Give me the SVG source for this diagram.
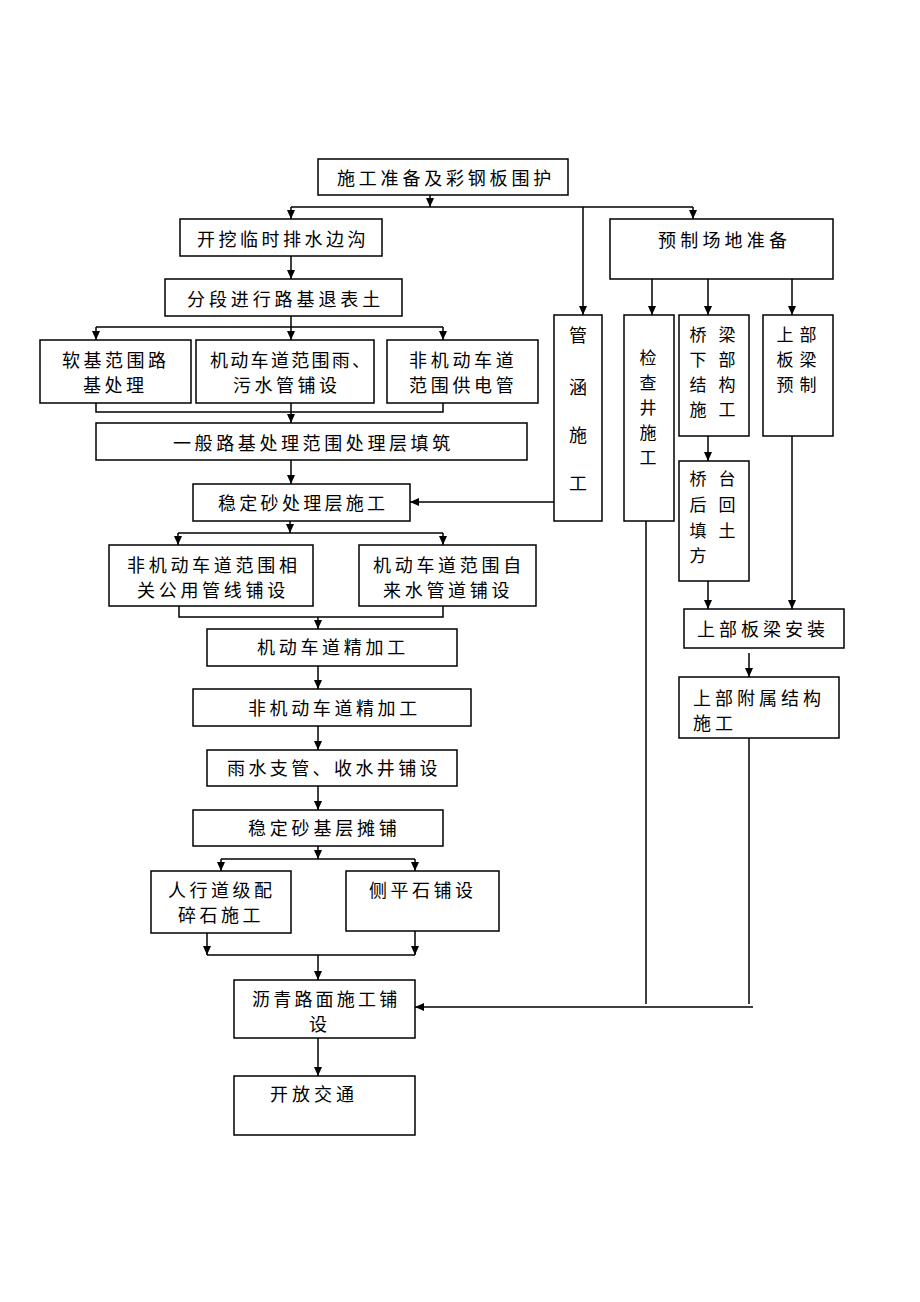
<svg xmlns="http://www.w3.org/2000/svg" width="920" height="1302" viewBox="0 0 920 1302">
<style>
.box{fill:#fff;stroke:#000;stroke-width:1.5}
.t{font-family:"Noto Sans CJK SC","Noto Sans CJK JP",sans-serif;font-size:18px;fill:#000;letter-spacing:3.5px}
.s{font-size:17px}
.v{letter-spacing:12px}
.c line,.c polyline{stroke:#000;stroke-width:1.5;fill:none}
.a{marker-end:url(#ah)}
</style>
<defs>
<marker id="ah" viewBox="0 0 9 8" markerWidth="9" markerHeight="8" refX="9" refY="4" orient="auto" markerUnits="userSpaceOnUse">
<path d="M0,0 L9,4 L0,8 z" fill="#000"/>
</marker>
</defs>
<rect width="920" height="1302" fill="#fff"/>

<g id="n1"><rect class="box" x="318" y="159" width="250" height="36"/><text class="t" x="337" y="185" style="letter-spacing:3.8px">施工准备及彩钢板围护</text></g>
<g id="n2"><rect class="box" x="180" y="219" width="202" height="37"/><text class="t" x="197" y="246">开挖临时排水边沟</text></g>
<g id="n3"><rect class="box" x="165" y="279" width="237" height="37"/><text class="t" x="187" y="306" style="letter-spacing:3.9px">分段进行路基退表土</text></g>
<g id="n4"><rect class="box" x="40" y="340" width="151" height="63"/><text class="t"><tspan x="62" y="367">软基范围路</tspan><tspan x="83" y="392">基处理</tspan></text></g>
<g id="n5"><rect class="box" x="196" y="340" width="178" height="63"/><text class="t"><tspan x="210" y="367" style="letter-spacing:2.3px">机动车道范围雨、</tspan><tspan x="233" y="392">污水管铺设</tspan></text></g>
<g id="n6"><rect class="box" x="387" y="340" width="151" height="63"/><text class="t" style="letter-spacing:3.7px"><tspan x="409" y="367">非机动车道</tspan><tspan x="409" y="392">范围供电管</tspan></text></g>
<g id="n7"><rect class="box" x="96" y="423" width="431" height="37"/><text class="t" x="173" y="450" style="letter-spacing:3.6px">一般路基处理范围处理层填筑</text></g>
<g id="n8"><rect class="box" x="193" y="484" width="217" height="37"/><text class="t" x="218" y="510" style="letter-spacing:3.3px">稳定砂处理层施工</text></g>
<g id="n9"><rect class="box" x="554" y="315" width="48" height="206"/><text class="t"><tspan x="569" y="342">管</tspan><tspan x="569" y="394">涵</tspan><tspan x="569" y="442">施</tspan><tspan x="569" y="490">工</tspan></text></g>
<g id="n10"><rect class="box" x="610" y="219" width="223" height="60"/><text class="t" x="658" y="247" style="letter-spacing:4.2px">预制场地准备</text></g>
<g id="n11"><rect class="box" x="624" y="315" width="50" height="206"/><text class="t s"><tspan x="639.5" y="364">检</tspan><tspan x="639.5" y="389">查</tspan><tspan x="639.5" y="414">井</tspan><tspan x="639.5" y="439">施</tspan><tspan x="639.5" y="464">工</tspan></text></g>
<g id="n12"><rect class="box" x="679" y="315" width="70" height="121"/><text class="t s v"><tspan x="689.5" y="341">桥梁</tspan><tspan x="689.5" y="366">下部</tspan><tspan x="689.5" y="391">结构</tspan><tspan x="689.5" y="416">施工</tspan></text></g>
<g id="n13"><rect class="box" x="763" y="315" width="70" height="121"/><text class="t s" style="letter-spacing:6px"><tspan x="776.5" y="341">上部</tspan><tspan x="776.5" y="366">板梁</tspan><tspan x="776.5" y="391">预制</tspan></text></g>
<g id="n14"><rect class="box" x="679" y="461" width="70" height="120"/><text class="t s v"><tspan x="689.5" y="485">桥台</tspan><tspan x="689.5" y="511">后回</tspan><tspan x="689.5" y="537">填土</tspan><tspan x="689.5" y="562">方</tspan></text></g>
<g id="n15"><rect class="box" x="684" y="609" width="160" height="39"/><text class="t" x="697" y="636" style="letter-spacing:4px">上部板梁安装</text></g>
<g id="n16"><rect class="box" x="679" y="677" width="160" height="61"/><text class="t" style="letter-spacing:4px"><tspan x="693" y="705">上部附属结构</tspan><tspan x="693" y="730">施工</tspan></text></g>
<g id="n17"><rect class="box" x="109" y="545" width="204" height="61"/><text class="t" style="letter-spacing:3.7px"><tspan x="127" y="572">非机动车道范围相</tspan><tspan x="137" y="597">关公用管线铺设</tspan></text></g>
<g id="n18"><rect class="box" x="359" y="545" width="177" height="61"/><text class="t" style="letter-spacing:3.7px"><tspan x="373" y="572">机动车道范围自</tspan><tspan x="383" y="597">来水管道铺设</tspan></text></g>
<g id="n19"><rect class="box" x="207" y="629" width="250" height="37"/><text class="t" x="257" y="654" style="letter-spacing:3.7px">机动车道精加工</text></g>
<g id="n20"><rect class="box" x="193" y="689" width="278" height="37"/><text class="t" x="248" y="715" style="letter-spacing:3.6px">非机动车道精加工</text></g>
<g id="n21"><rect class="box" x="207" y="750" width="250" height="36"/><text class="t" x="227" y="775" style="letter-spacing:3.4px">雨水支管、收水井铺设</text></g>
<g id="n22"><rect class="box" x="193" y="810" width="250" height="36"/><text class="t" x="248" y="835" style="letter-spacing:3.8px">稳定砂基层摊铺</text></g>
<g id="n23"><rect class="box" x="151" y="871" width="140" height="62"/><text class="t"><tspan x="168" y="897">人行道级配</tspan><tspan x="178" y="922">碎石施工</tspan></text></g>
<g id="n24"><rect class="box" x="346" y="871" width="153" height="60"/><text class="t" x="369" y="897">侧平石铺设</text></g>
<g id="n25"><rect class="box" x="234" y="980" width="181" height="58"/><text class="t"><tspan x="252" y="1006" style="letter-spacing:3.2px">沥青路面施工铺</tspan><tspan x="309" y="1031">设</tspan></text></g>
<g id="n26"><rect class="box" x="234" y="1076" width="181" height="59"/><text class="t" x="270" y="1101" style="letter-spacing:4px">开放交通</text></g>

<g id="connectors" class="c">
<line class="a" x1="430" y1="195" x2="430" y2="207"/>
<line x1="291" y1="207" x2="693" y2="207"/>
<line class="a" x1="291" y1="207" x2="291" y2="219"/>
<line class="a" x1="583" y1="207" x2="583" y2="315"/>
<line class="a" x1="693" y1="207" x2="693" y2="219"/>
<line class="a" x1="291" y1="256" x2="291" y2="279"/>
<line class="a" x1="291" y1="316" x2="291" y2="340"/>
<line x1="96" y1="327" x2="443" y2="327"/>
<line class="a" x1="96" y1="327" x2="96" y2="340"/>
<line class="a" x1="443" y1="327" x2="443" y2="340"/>
<polyline points="96,403 96,412 443,412 443,403"/>
<line class="a" x1="291" y1="403" x2="291" y2="423"/>
<line class="a" x1="291" y1="460" x2="291" y2="484"/>
<line class="a" x1="554" y1="502" x2="410" y2="502"/>
<line class="a" x1="290" y1="521" x2="290" y2="533"/>
<line x1="178" y1="533" x2="443" y2="533"/>
<line class="a" x1="178" y1="533" x2="178" y2="545"/>
<line class="a" x1="443" y1="533" x2="443" y2="545"/>
<polyline points="179,606 179,617 443,617 443,606"/>
<line class="a" x1="318" y1="617" x2="318" y2="629"/>
<line class="a" x1="318" y1="666" x2="318" y2="689"/>
<line class="a" x1="318" y1="726" x2="318" y2="750"/>
<line class="a" x1="318" y1="786" x2="318" y2="810"/>
<line class="a" x1="318" y1="846" x2="318" y2="859"/>
<line x1="221" y1="859" x2="415" y2="859"/>
<line class="a" x1="221" y1="859" x2="221" y2="871"/>
<line class="a" x1="415" y1="859" x2="415" y2="871"/>
<line class="a" x1="207" y1="933" x2="207" y2="955"/>
<line class="a" x1="415" y1="931" x2="415" y2="955"/>
<line x1="207" y1="955" x2="415" y2="955"/>
<line class="a" x1="318" y1="955" x2="318" y2="980"/>
<line class="a" x1="318" y1="1038" x2="318" y2="1076"/>
<line class="a" x1="652" y1="279" x2="652" y2="315"/>
<line class="a" x1="708" y1="279" x2="708" y2="315"/>
<line class="a" x1="792" y1="279" x2="792" y2="315"/>
<line class="a" x1="708" y1="436" x2="708" y2="461"/>
<line class="a" x1="708" y1="581" x2="708" y2="609"/>
<line class="a" x1="792" y1="436" x2="792" y2="609"/>
<line class="a" x1="749" y1="653" x2="749" y2="677"/>
<line x1="646" y1="521" x2="646" y2="1004"/>
<line x1="749" y1="738" x2="749" y2="1004"/>
<line class="a" x1="753" y1="1007" x2="415" y2="1007"/>
</g>
</svg>
